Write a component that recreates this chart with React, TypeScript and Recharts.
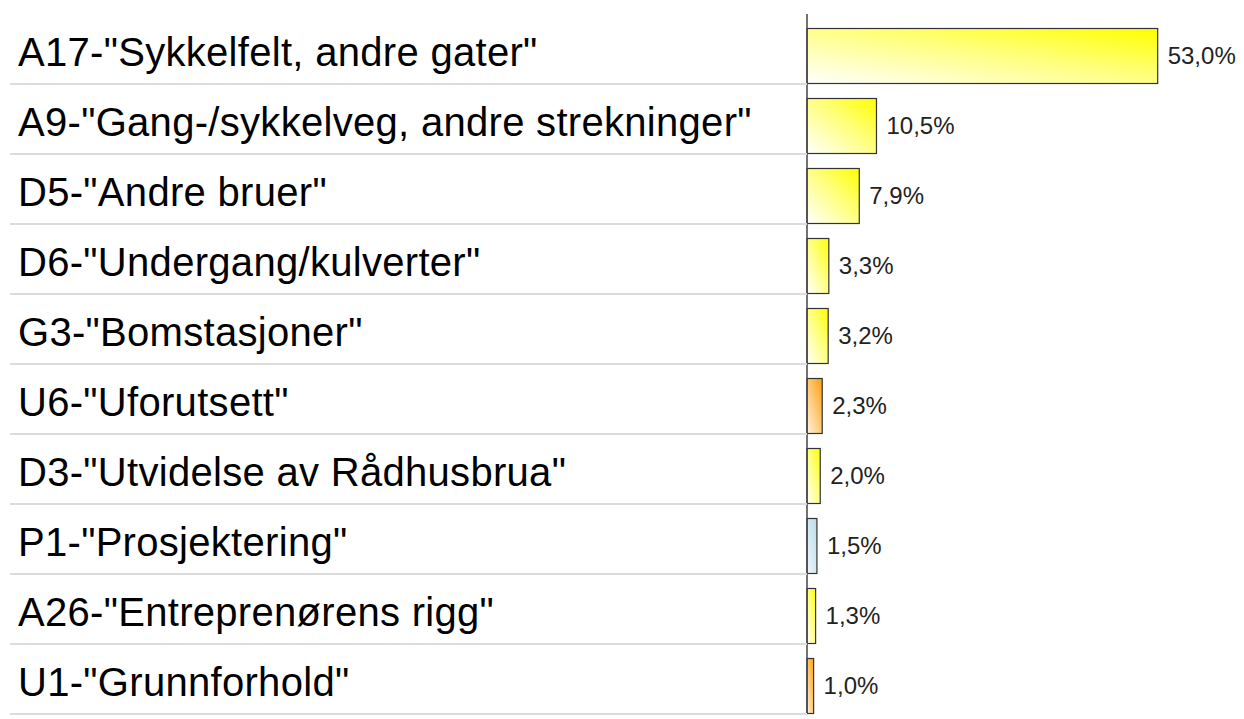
import { BarChart, Bar, XAxis, YAxis, LabelList } from 'recharts';

const categories = [
  'A17-"Sykkelfelt, andre gater"',
  'A9-"Gang-/sykkelveg, andre strekninger"',
  'D5-"Andre bruer"',
  'D6-"Undergang/kulverter"',
  'G3-"Bomstasjoner"',
  'U6-"Uforutsett"',
  'D3-"Utvidelse av Rådhusbrua"',
  'P1-"Prosjektering"',
  'A26-"Entreprenørens rigg"',
  'U1-"Grunnforhold"',
];
const shares = [53.0, 10.5, 7.9, 3.3, 3.2, 2.3, 2.0, 1.5, 1.3, 1.0];
const groups = ['y', 'y', 'y', 'y', 'y', 'o', 'y', 'b', 'y', 'o'];

const data = categories.map((name, i) => ({ name, value: shares[i], group: groups[i] }));

const ROW_SHIFT = 6.5;
const FONT = '"Liberation Sans", Arial, sans-serif';

const fmt = (v: number) => v.toFixed(1).replace('.', ',') + '%';

function CategoryTick(props: any) {
  const { y, payload } = props;
  return (
    <g>
      <text
        x={10}
        y={y}
        dy={16.5}
        fontSize={40}
        letterSpacing={0.3}
        fontFamily={FONT}
        fill="#000"
        textAnchor="start"
      >
        {payload.value}
      </text>
      <line x1={2} x2={799} y1={y + 35} y2={y + 35} stroke="#dcdcdc" strokeWidth={2} />
    </g>
  );
}

function ShiftedBar(props: any) {
  const { x, y, width, height, payload } = props;
  return (
    <rect
      x={x}
      y={y + ROW_SHIFT}
      width={width}
      height={height}
      fill={`url(#grad-${payload.group})`}
      stroke="#333"
      strokeWidth={1.2}
    />
  );
}

function ValueLabel(props: any) {
  const { x, y, width, height, value } = props;
  return (
    <text
      x={x + width + 10}
      y={y + height / 2 + ROW_SHIFT}
      dy={8}
      fontSize={24}
      fontFamily={FONT}
      fill="#222"
    >
      {fmt(value)}
    </text>
  );
}

export default function App() {
  return (
    <BarChart
      width={1228}
      height={711}
      data={data}
      layout="vertical"
      margin={{ top: 6, right: 32, bottom: 5, left: 0 }}
      barCategoryGap={0}
    >
      <defs>
        <linearGradient id="grad-y" x1="0" y1="1" x2="1" y2="0">
          <stop offset="0%" stopColor="#ffffff" />
          <stop offset="60%" stopColor="#ffff70" />
          <stop offset="100%" stopColor="#ffff00" />
        </linearGradient>
        <linearGradient id="grad-o" x1="0" y1="1" x2="1" y2="0">
          <stop offset="0%" stopColor="#fff3e0" />
          <stop offset="60%" stopColor="#ffc060" />
          <stop offset="100%" stopColor="#ffa010" />
        </linearGradient>
        <linearGradient id="grad-b" x1="0" y1="1" x2="1" y2="0">
          <stop offset="0%" stopColor="#eef7fb" />
          <stop offset="100%" stopColor="#b8dcea" />
        </linearGradient>
      </defs>
      <XAxis type="number" domain={[0, 60]} hide />
      <YAxis
        type="category"
        dataKey="name"
        width={799}
        tick={<CategoryTick />}
        tickLine={false}
        axisLine={{ stroke: '#444', strokeWidth: 1.5 }}
        interval={0}
      />
      <Bar dataKey="value" barSize={55} shape={<ShiftedBar />} isAnimationActive={false}>
        <LabelList dataKey="value" content={<ValueLabel />} />
      </Bar>
    </BarChart>
  );
}
